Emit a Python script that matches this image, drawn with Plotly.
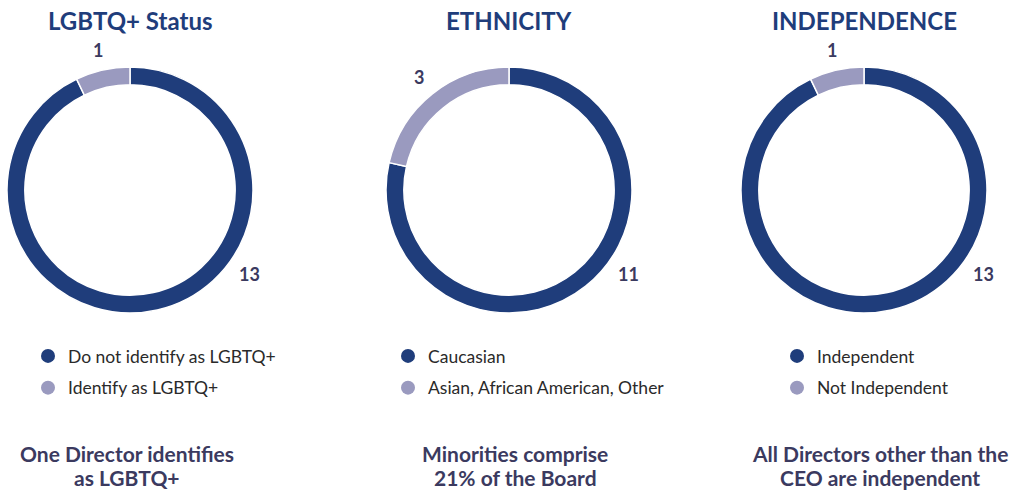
import math
import plotly.graph_objects as go

# ---- data ----
titles = ["LGBTQ+ Status", "ETHNICITY", "INDEPENDENCE"]
labels_lgbtq = ["Do not identify as LGBTQ+", "Identify as LGBTQ+"]
values_lgbtq = [13, 1]
labels_eth = ["Caucasian", "Asian, African American, Other"]
values_eth = [11, 3]
labels_ind = ["Independent", "Not Independent"]
values_ind = [13, 1]
captions = [["One Director identifies", "as LGBTQ+"],
            ["Minorities comprise", "21% of the Board"],
            ["All Directors other than the", "CEO are independent"]]

W, H = 1012, 492
DARK = "#1f3d7b"
LIGHT = "#9a9abf"
TXT = "#3b3a5f"
FONT = "Lato"

groups = [(labels_lgbtq, values_lgbtq), (labels_eth, values_eth), (labels_ind, values_ind)]
centers_x = [130, 509, 864]   # px
center_y = 190                # px from top
R = 123

fig = go.Figure()
annotations = []
for i, (labs, vals) in enumerate(groups):
    cx = centers_x[i]
    dom_x = [(cx - R) / W, (cx + R) / W]
    dom_y = [1 - (center_y + R) / H, 1 - (center_y - R) / H]
    fig.add_trace(go.Pie(
        labels=labs, values=vals, hole=0.855, sort=False, direction="clockwise",
        rotation=0, domain=dict(x=dom_x, y=dom_y),
        marker=dict(colors=[DARK, LIGHT], line=dict(color="white", width=1.5)),
        textinfo="none", hoverinfo="label+value", showlegend=False,
    ))
    # value labels
    total = sum(vals)
    cum = 0
    for j, v in enumerate(vals):
        if j == 0:
            ang = 125.0  # large slice label at lower right
            rr = 146
        else:
            ang = (cum + v / 2) / total * 360
            rr = 144
        cum += v
        x = cx + rr * math.sin(math.radians(ang))
        y = center_y - rr * math.cos(math.radians(ang))
        annotations.append(dict(
            x=x / W, y=1 - y / H, xref="paper", yref="paper", text="<b>%d</b>" % v,
            showarrow=False, font=dict(family=FONT, size=18, color=TXT),
            xanchor="center", yanchor="middle"))
    # title
    annotations.append(dict(
        x=cx / W, y=1 - 20 / H, xref="paper", yref="paper", text="<b>%s</b>" % titles[i],
        showarrow=False, font=dict(family=FONT, size=24, color=DARK),
        xanchor="center", yanchor="middle"))
    # caption (two lines)
    capx = [127, 515, 880][i]
    for k, line in enumerate(captions[i]):
        annotations.append(dict(
            x=capx / W, y=1 - (453 + 24 * k) / H, xref="paper", yref="paper",
            text="<b>%s</b>" % line,
            showarrow=False, font=dict(family=FONT, size=21, color=TXT),
            xanchor="center", yanchor="middle", align="center"))

# legends via dummy scatter traces with circle markers
legend_names = ["legend", "legend2", "legend3"]
legend_x = [28, 388, 777]
for i, (labs, vals) in enumerate(groups):
    for j, lab in enumerate(labs):
        fig.add_trace(go.Scatter(
            x=[None], y=[None], mode="markers", name=lab,
            marker=dict(color=[DARK, LIGHT][j], size=14, symbol="circle"),
            legend=legend_names[i], legendgroup="g%d_%d" % (i, j), showlegend=True,
        ))

leg_common = dict(font=dict(family=FONT, size=17.5, color="#2a2a2a"), bgcolor="rgba(0,0,0,0)",
                  tracegroupgap=6, xanchor="left", yanchor="top", itemsizing="trace")
layout_legends = {}
for i, ln in enumerate(legend_names):
    layout_legends[ln] = dict(x=legend_x[i] / W, y=1 - 338 / H, **leg_common)

fig.update_layout(
    width=W, height=H, margin=dict(l=0, r=0, t=0, b=0),
    paper_bgcolor="white", plot_bgcolor="white",
    xaxis=dict(visible=False), yaxis=dict(visible=False),
    annotations=annotations, showlegend=True,
    **layout_legends,
)
fig.write_html("out.html", config={"displayModeBar": False},
               post_script="document.body.style.margin='0px';")
